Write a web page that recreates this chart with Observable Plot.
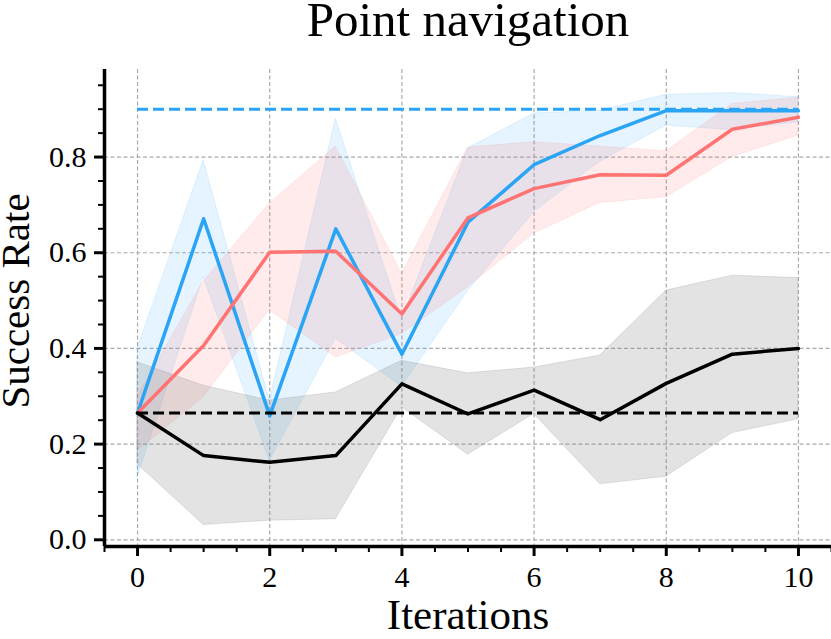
<!DOCTYPE html>
<html><head><meta charset="utf-8">
<script src="https://cdn.jsdelivr.net/npm/d3@7"></script>
<script src="https://cdn.jsdelivr.net/npm/@observablehq/plot@0.6"></script>
<style>body{margin:0;background:#fff} #chart svg{display:block;overflow:visible}</style>
</head><body><div id="chart"></div>
<script>
const iterations = [0, 1, 2, 3, 4, 5, 6, 7, 8, 9, 10];
const blueMean = [0.265, 0.671, 0.259, 0.650, 0.388, 0.664, 0.784, 0.845, 0.897, 0.897, 0.897];
const blueLow  = [0.13, 0.549, 0.165, 0.42, 0.32, 0.52, 0.685, 0.79, 0.866, 0.856, 0.873];
const blueHigh = [0.40, 0.793, 0.29, 0.880, 0.46, 0.818, 0.891, 0.897, 0.930, 0.934, 0.925];
const redMean  = [0.265, 0.406, 0.601, 0.603, 0.472, 0.673, 0.734, 0.763, 0.762, 0.858, 0.883];
const redLow   = [0.186, 0.298, 0.48, 0.381, 0.43, 0.528, 0.64, 0.704, 0.716, 0.80, 0.845];
const redHigh  = [0.30, 0.54, 0.703, 0.822, 0.556, 0.82, 0.831, 0.822, 0.812, 0.911, 0.924];
const blackMean = [0.265, 0.176, 0.162, 0.176, 0.326, 0.263, 0.313, 0.251, 0.327, 0.388, 0.40];
const blackLow  = [0.158, 0.031, 0.040, 0.043, 0.277, 0.178, 0.263, 0.116, 0.132, 0.223, 0.252];
const blackHigh = [0.371, 0.322, 0.291, 0.308, 0.374, 0.348, 0.36, 0.385, 0.521, 0.552, 0.547];
const blueReference = 0.9;
const blackReference = 0.265;
const xMajorTicks = [0, 2, 4, 6, 8, 10];
const xMinorTicks = d3.range(-0.5, 10.51, 0.5).filter(v => v % 2 !== 0);
const yMajorTicks = [0, 0.2, 0.4, 0.6, 0.8];
const yMinorTicks = d3.range(0, 0.96, 0.05).map(v => +v.toFixed(2)).filter(v => !yMajorTicks.includes(v));
const xDomain = [-0.5, 10.5];
const yDomain = [-0.014, 0.983];

const rows = iterations.map((x, i) => ({
  x, blue: blueMean[i], blueLo: blueLow[i], blueHi: blueHigh[i],
  red: redMean[i], redLo: redLow[i], redHi: redHigh[i],
  black: blackMean[i], blackLo: blackLow[i], blackHi: blackHigh[i]
}));

const BLUE = "#2aa4f4", RED = "#ff7373", GREY = "#808080";
const xFirst = iterations[0], xLast = iterations[iterations.length - 1];

const chart = Plot.plot({
  width: 831, height: 639,
  marginLeft: 104, marginRight: 0, marginTop: 69, marginBottom: 93,
  x: {domain: xDomain},
  y: {domain: yDomain},
  style: {fontFamily: "'Liberation Serif', 'Times New Roman', serif", background: "white", color: "black", overflow: "visible"},
  marks: [
    Plot.gridX({ticks: xMajorTicks, stroke: "#aaaaaa", strokeOpacity: 1, strokeWidth: 1.2, strokeDasharray: "4,2.5"}),
    Plot.gridY({ticks: yMajorTicks, stroke: "#aaaaaa", strokeOpacity: 1, strokeWidth: 1.2, strokeDasharray: "4,2.5"}),
    Plot.areaY(rows, {x: "x", y1: "blueLo", y2: "blueHi", fill: BLUE, fillOpacity: 0.12, stroke: BLUE, strokeOpacity: 0.12}),
    Plot.areaY(rows, {x: "x", y1: "redLo", y2: "redHi", fill: RED, fillOpacity: 0.14, stroke: RED, strokeOpacity: 0.12}),
    Plot.areaY(rows, {x: "x", y1: "blackLo", y2: "blackHi", fill: GREY, fillOpacity: 0.22, stroke: GREY, strokeOpacity: 0.2}),
    Plot.lineY(rows, {x: "x", y: "blue", stroke: BLUE, strokeWidth: 3.5}),
    Plot.lineY(rows, {x: "x", y: "red", stroke: RED, strokeWidth: 3.5}),
    Plot.lineY(rows, {x: "x", y: "black", stroke: "black", strokeWidth: 3.5}),
    Plot.ruleY([blueReference], {x1: xFirst, x2: xLast, stroke: BLUE, strokeWidth: 3, strokeDasharray: "11,5"}),
    Plot.ruleY([blackReference], {x1: xFirst, x2: xLast, stroke: "black", strokeWidth: 3, strokeDasharray: "11,5"}),
    Plot.ruleX([xDomain[0]], {stroke: "black", strokeWidth: 3.5}),
    Plot.ruleY([yDomain[0]], {stroke: "black", strokeWidth: 3.5}),
    Plot.axisX({ticks: xMajorTicks, tickSize: 10, strokeWidth: 3, tickPadding: 9, fontSize: 30, label: null, tickFormat: d => String(d)}),
    Plot.axisX({ticks: xMinorTicks, tickSize: 6, strokeWidth: 2, tickFormat: () => "", label: null}),
    Plot.axisY({ticks: yMajorTicks, tickSize: 10, strokeWidth: 3, tickPadding: 8, fontSize: 30, label: null, tickFormat: d3.format(".1f")}),
    Plot.axisY({ticks: yMinorTicks, tickSize: 6, strokeWidth: 2, tickFormat: () => "", label: null}),
    Plot.text(["Point navigation"], {frameAnchor: "top", dy: -34, fontSize: 49, lineAnchor: "bottom", fill: "black"}),
    Plot.text(["Iterations"], {frameAnchor: "bottom", dy: 82, fontSize: 43, lineAnchor: "bottom", fill: "black"}),
    Plot.text(["Success Rate"], {frameAnchor: "left", textAnchor: "middle", dx: -89, dy: -7, rotate: -90, fontSize: 41, fill: "black"})
  ]
});
document.getElementById("chart").appendChild(chart);
</script></body></html>
